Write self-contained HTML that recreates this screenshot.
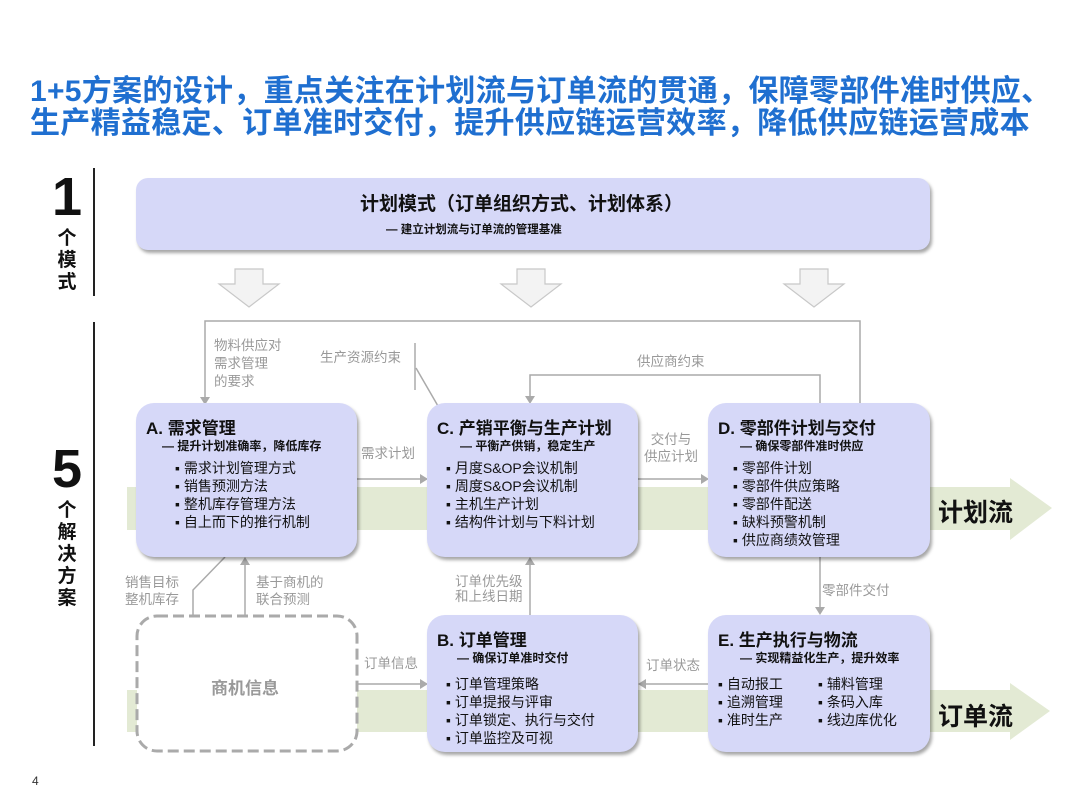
<!DOCTYPE html>
<html><head><meta charset="utf-8"><style>
*{margin:0;padding:0;box-sizing:border-box}
body{width:1080px;height:810px;background:#fff;position:relative;overflow:hidden;font-family:"Liberation Sans","Noto Sans CJK SC",sans-serif;color:#111}
.a{position:absolute}
.title{left:30px;top:76px;font-size:30px;line-height:32px;font-weight:bold;color:#1f6fd0;white-space:nowrap;letter-spacing:0.3px}
.box{position:absolute;background:#d6d8f8;border-radius:18px;box-shadow:2px 3px 3px rgba(0,0,0,0.35)}
.h{position:absolute;font-weight:bold;font-size:17px;white-space:nowrap}
.s{position:absolute;font-weight:bold;font-size:12px;white-space:nowrap}
.l{position:absolute;font-size:14px;line-height:18px;white-space:nowrap}
.g{position:absolute;color:#999;font-size:13.5px;line-height:16px;white-space:nowrap}
.big{position:absolute;font-weight:bold;color:#111}
.v{position:absolute;font-weight:bold;font-size:19px;line-height:22px;width:22px;text-align:center}
</style></head><body>
<div class="a title">1+5方案的设计，重点关注在计划流与订单流的贯通，保障零部件准时供应、<br>生产精益稳定、订单准时交付，提升供应链运营效率，降低供应链运营成本</div>

<svg class="a" style="left:0;top:0" width="1080" height="810">
<line x1="94" y1="168" x2="94" y2="296" stroke="#222" stroke-width="2"/>
<line x1="94" y1="322" x2="94" y2="746" stroke="#222" stroke-width="2"/>
<!-- flow bands -->
<polygon points="127,487 1010,487 1010,478 1052,508 1010,540 1010,530 127,530" fill="#e3ead4"/>
<polygon points="127,690 1010,690 1010,683 1050,711 1010,740 1010,732 127,732" fill="#e3ead4"/>
<!-- down hollow arrows -->
<g fill="#f3f3f3" stroke="#c8c8c8" stroke-width="1.2">
<polygon points="235,269 263,269 263,284 279,284 249,307 219,284 235,284"/>
<polygon points="517,269 545,269 545,284 561,284 531,307 501,284 517,284"/>
<polygon points="800,269 828,269 828,284 844,284 814,307 784,284 800,284"/>
</g>
<g stroke="#aaa" stroke-width="1.5" fill="none">
<polyline points="205,400 205,321 860,321 860,403"/>
<polyline points="530,400 530,375 820,375 820,403"/>
<line x1="415" y1="343" x2="415" y2="390"/>
<line x1="416" y1="368" x2="438" y2="406"/>
<line x1="357" y1="479" x2="420" y2="479"/>
<line x1="638" y1="479" x2="701" y2="479"/>
<polyline points="193,615 193,590 225,557"/>
<line x1="245" y1="615" x2="245" y2="564"/>
<line x1="530" y1="615" x2="530" y2="564"/>
<line x1="820" y1="557" x2="820" y2="608"/>
<line x1="357" y1="684" x2="420" y2="684"/>
<line x1="645" y1="684" x2="708" y2="684"/>
</g>
<g fill="#aaa">
<polygon points="200,397 210,397 205,405"/>
<polygon points="525,396 535,396 530,404"/>
<polygon points="420,474 428,479 420,484"/>
<polygon points="701,474 709,479 701,484"/>
<polygon points="240,565 250,565 245,557"/>
<polygon points="525,565 535,565 530,557"/>
<polygon points="815,607 825,607 820,615"/>
<polygon points="420,679 428,684 420,689"/>
<polygon points="646,679 638,684 646,689"/>
</g>
<rect x="137" y="616" width="220" height="135" rx="20" fill="#fff" stroke="#aaa" stroke-width="3" stroke-dasharray="11,5"/>
</svg>

<div class="big" style="left:52px;top:168px;font-size:54px;line-height:58px">1</div>
<div class="v" style="left:56px;top:228px">个<br>模<br>式</div>
<div class="big" style="left:52px;top:440px;font-size:54px;line-height:58px">5</div>
<div class="v" style="left:56px;top:500px">个<br>解<br>决<br>方<br>案</div>

<div class="box" style="left:136px;top:178px;width:794px;height:72px;border-radius:12px"></div>
<div class="h" style="left:360px;top:189px;font-size:19px">计划模式（订单组织方式、计划体系）</div>
<div class="s" style="left:386px;top:221px;font-size:11.5px">— 建立计划流与订单流的管理基准</div>

<div class="g" style="left:214px;top:337px;line-height:18px">物料供应对<br>需求管理<br>的要求</div>
<div class="g" style="left:320px;top:350px">生产资源约束</div>
<div class="g" style="left:637px;top:354px">供应商约束</div>
<div class="g" style="left:361px;top:446px">需求计划</div>
<div class="g" style="left:644px;top:431px;text-align:center;line-height:17px">交付与<br>供应计划</div>
<div class="g" style="left:125px;top:574px;line-height:17px">销售目标<br>整机库存</div>
<div class="g" style="left:256px;top:574px;line-height:17px">基于商机的<br>联合预测</div>
<div class="g" style="left:455px;top:574px;line-height:15px">订单优先级<br>和上线日期</div>
<div class="g" style="left:822px;top:583px">零部件交付</div>
<div class="g" style="left:364px;top:656px">订单信息</div>
<div class="g" style="left:646px;top:658px">订单状态</div>
<div class="a" style="left:211px;top:674px;font-size:17px;font-weight:bold;color:#999">商机信息</div>

<div class="box" style="left:136px;top:403px;width:221px;height:154px"></div>
<div class="h" style="left:146px;top:414px">A. 需求管理</div>
<div class="s" style="left:162px;top:437px">— 提升计划准确率，降低库存</div>
<div class="l" style="left:175px;top:459px">▪ 需求计划管理方式<br>▪ 销售预测方法<br>▪ 整机库存管理方法<br>▪ 自上而下的推行机制</div>

<div class="box" style="left:427px;top:403px;width:211px;height:154px"></div>
<div class="h" style="left:437px;top:414px">C. 产销平衡与生产计划</div>
<div class="s" style="left:460px;top:437px">— 平衡产供销，稳定生产</div>
<div class="l" style="left:446px;top:459px">▪ 月度S&amp;OP会议机制<br>▪ 周度S&amp;OP会议机制<br>▪ 主机生产计划<br>▪ 结构件计划与下料计划</div>

<div class="box" style="left:708px;top:403px;width:222px;height:154px"></div>
<div class="h" style="left:718px;top:414px">D. 零部件计划与交付</div>
<div class="s" style="left:740px;top:437px">— 确保零部件准时供应</div>
<div class="l" style="left:733px;top:459px">▪ 零部件计划<br>▪ 零部件供应策略<br>▪ 零部件配送<br>▪ 缺料预警机制<br>▪ 供应商绩效管理</div>

<div class="box" style="left:427px;top:615px;width:211px;height:137px"></div>
<div class="h" style="left:437px;top:626px">B. 订单管理</div>
<div class="s" style="left:457px;top:649px">— 确保订单准时交付</div>
<div class="l" style="left:446px;top:675px">▪ 订单管理策略<br>▪ 订单提报与评审<br>▪ 订单锁定、执行与交付<br>▪ 订单监控及可视</div>

<div class="box" style="left:708px;top:615px;width:222px;height:137px"></div>
<div class="h" style="left:718px;top:626px">E. 生产执行与物流</div>
<div class="s" style="left:740px;top:649px">— 实现精益化生产，提升效率</div>
<div class="l" style="left:718px;top:675px">▪ 自动报工<br>▪ 追溯管理<br>▪ 准时生产</div>
<div class="l" style="left:818px;top:675px">▪ 辅料管理<br>▪ 条码入库<br>▪ 线边库优化</div>

<div class="a" style="left:938px;top:493px;font-size:25px;font-weight:bold">计划流</div>
<div class="a" style="left:938px;top:697px;font-size:25px;font-weight:bold">订单流</div>
<div class="a" style="left:32px;top:774px;font-size:12px;color:#333">4</div>
</body></html>
